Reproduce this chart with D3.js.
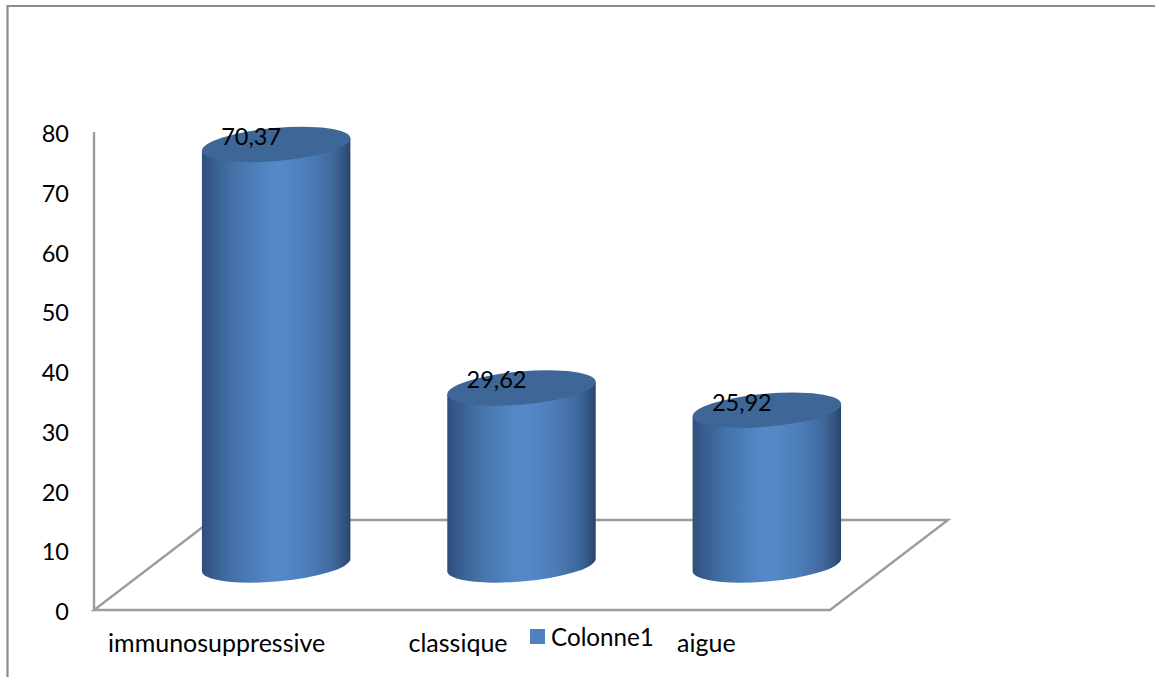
<!DOCTYPE html>
<html lang="fr">
<head>
<meta charset="utf-8">
<title>Colonne1</title>
<script src="https://cdn.jsdelivr.net/npm/d3@7/dist/d3.min.js"></script>
<style>
  html, body { margin: 0; padding: 0; background: #fff; overflow: hidden; }
  text { font-family: Lato, "Open Sans", sans-serif; fill: #000; }
</style>
</head>
<body>
<script>
const categories = ["immunosuppressive", "classique", "aigue"];
const values = [70.37, 29.62, 25.92];
const valueTicks = [0, 10, 20, 30, 40, 50, 60, 70, 80];
const seriesName = "Colonne1";

const W = 1155, H = 677;
const frameColor = "#8c8c8c", wallColor = "#9c9c9c";
const plot = { left: 94, right: 830, top: 132, bottom: 610 };
const depth = { dx: 118, dy: 90 };
const tickFont = 23.5, categoryFont = 25, legendFont = 24.2;
const tilt = -5, rx = 74.5, ry = 16.5;

const x = d3.scaleBand().domain(categories).range([plot.left, plot.right]);
const y = d3.scaleLinear().domain([0, 80]).range([plot.bottom, plot.top]);
const frFormat = d3.formatLocale({ decimal: ",", thousands: " ", grouping: [3], currency: ["", " €"] }).format(".2f");

const svg = d3.select("body").append("svg")
  .attr("width", W).attr("height", H).attr("viewBox", [0, 0, W, H])
  .style("display", "block");

// Horizontal shading around the cylinder wall
const defs = svg.append("defs");
const wall = defs.append("linearGradient").attr("id", "wall");
[[0, "#2e4f7c"], [0.08, "#385d8e"], [0.22, "#4473a9"], [0.45, "#5387c6"], [0.55, "#5588c7"],
 [0.72, "#4c7dba"], [0.88, "#40699c"], [0.96, "#325380"], [1, "#28446c"]]
  .forEach(([o, c]) => wall.append("stop").attr("offset", o).attr("stop-color", c));

// Outer frame: top and left edges only
svg.append("path")
  .attr("d", d3.line()([[7.5, H], [7.5, 6], [W, 6]]))
  .attr("fill", "none").attr("stroke", frameColor).attr("stroke-width", 2.2);

// Floor parallelogram and value axis wall edge
const floor = [
  [plot.left, plot.bottom],
  [plot.right, plot.bottom],
  [plot.right + depth.dx, plot.bottom - depth.dy],
  [plot.left + depth.dx, plot.bottom - depth.dy]
];
svg.append("path")
  .attr("d", d3.line()(floor) + "Z")
  .attr("fill", "none").attr("stroke", wallColor).attr("stroke-width", 2.4);
svg.append("line")
  .attr("x1", plot.left).attr("x2", plot.left)
  .attr("y1", plot.top).attr("y2", plot.bottom)
  .attr("stroke", wallColor).attr("stroke-width", 2.4);

// Value axis
const yAxis = svg.append("g")
  .attr("transform", `translate(${plot.left - 25},1.5)`)
  .call(d3.axisLeft(y).tickValues(valueTicks).tickSize(0).tickPadding(0));
yAxis.select(".domain").remove();
yAxis.selectAll("text").style("font-size", tickFont + "px").attr("dy", "0.34em");

// Category axis; the middle label is nudged left to clear the legend
const xAxis = svg.append("g")
  .attr("transform", `translate(0,${plot.bottom + 27})`)
  .call(d3.axisBottom(x).tickSize(0).tickPadding(0));
xAxis.select(".domain").remove();
xAxis.selectAll("text")
  .style("font-size", categoryFont + "px")
  .attr("dy", "0.6em")
  .attr("dx", d => d === "classique" ? -4 : d === "aigue" ? -1 : 0);

// Cylinders sit halfway into the floor depth
const rad = tilt * Math.PI / 180;
const xExt = Math.sqrt(rx * rx * Math.cos(rad) ** 2 + ry * ry * Math.sin(rad) ** 2);
const slant = Math.abs((rx * rx - ry * ry) * Math.sin(rad) * Math.cos(rad)) / xExt;
const cx = d => x(d) + x.bandwidth() / 2 + depth.dx / 2 + 0.5;
const baseY = y(0) - depth.dy / 2;
const topY = v => y(v) - depth.dy / 2;

const bars = svg.append("g").selectAll("g")
  .data(categories.map((c, i) => ({ c, v: values[i] })))
  .join("g");

bars.append("path")
  .attr("fill", "url(#wall)")
  .attr("d", d => {
    const c = cx(d.c), t = topY(d.v);
    return `M${c - xExt},${t + slant} L${c - xExt},${baseY + slant}` +
      ` A${rx},${ry} ${tilt} 0 0 ${c + xExt},${baseY - slant}` +
      ` L${c + xExt},${t - slant} Z`;
  });

bars.append("ellipse")
  .attr("rx", rx).attr("ry", ry)
  .attr("fill", "#3e6696")
  .attr("transform", d => `translate(${cx(d.c)},${topY(d.v)}) rotate(${tilt})`);

bars.append("text")
  .attr("x", d => cx(d.c) - 25)
  .attr("y", d => topY(d.v) - 8)
  .attr("dy", "0.36em")
  .attr("text-anchor", "middle")
  .style("font-size", tickFont + "px")
  .text(d => frFormat(d.v));

// Legend
const legend = svg.append("g").attr("transform", "translate(530,629)");
legend.append("rect").attr("width", 15).attr("height", 15).attr("fill", "#4f81bd");
legend.append("text").attr("x", 21).attr("y", 8).attr("dy", "0.36em")
  .style("font-size", legendFont + "px").text(seriesName);
</script>
</body>
</html>
